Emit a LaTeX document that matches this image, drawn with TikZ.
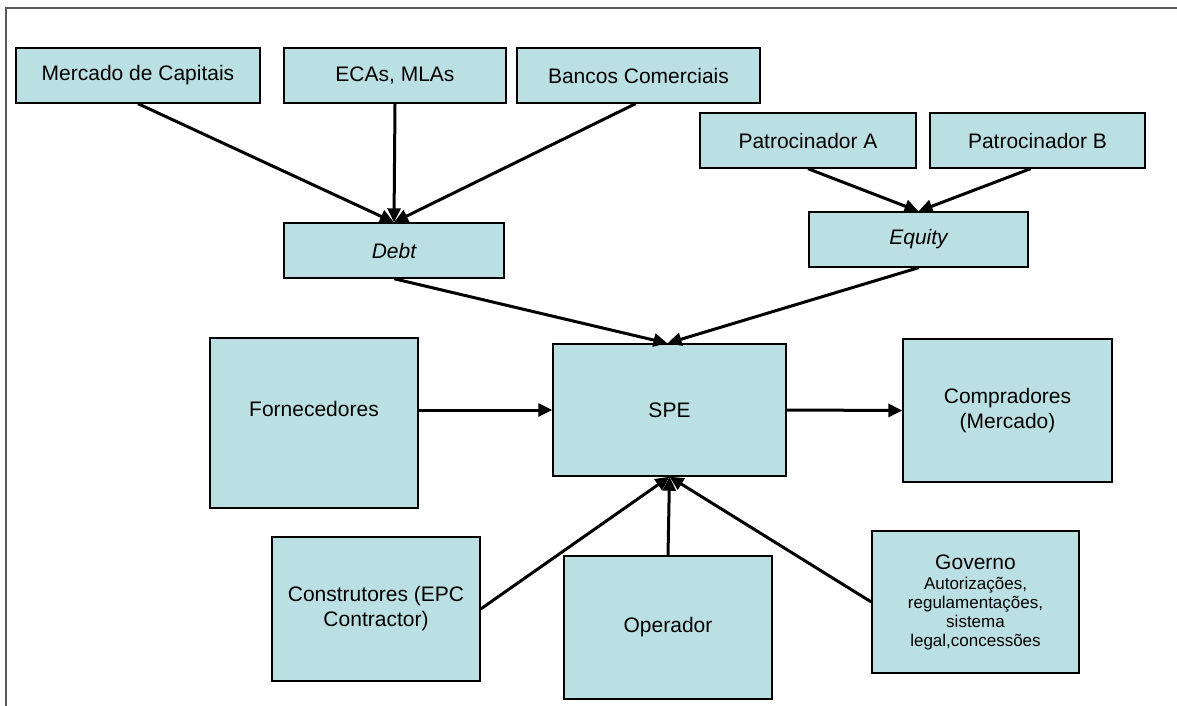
\documentclass[tikz,border=0pt]{standalone}
\usepackage{fontspec}
\setmainfont{Liberation Sans}
\usetikzlibrary{arrows.meta}
\definecolor{boxfill}{RGB}{187,224,227}
\definecolor{framegray}{RGB}{90,90,90}
\begin{document}
\begin{tikzpicture}[x=1pt,y=-1pt,
  box/.style={draw=black,line width=1.4pt,fill=boxfill,rectangle,inner sep=0pt,
    align=center,font=\fontsize{21}{25}\selectfont},
  conn/.style={line width=3pt,-{Triangle[length=14pt,width=13pt]}}]
\useasboundingbox (0,0) rectangle (1177,706);
\draw[framegray,line width=1.8pt] (6,706) -- (6,8) -- (1177,8);
% top row
\node[box,minimum width=244pt,minimum height=55pt] (merc) at (138,75.5) {Mercado de Capitais};
\node[box,minimum width=222pt,minimum height=55pt] (ecas) at (395,75.5) {ECAs, MLAs};
\node[box,minimum width=243pt,minimum height=55pt] (banc) at (638.5,75.5) {Bancos Comerciais};
\node[box,minimum width=216pt,minimum height=55pt] (pata) at (808,140.5) {Patrocinador A};
\node[box,minimum width=215pt,minimum height=55pt] (patb) at (1037.5,140.5) {Patrocinador B};
% middle
\node[box,minimum width=220pt,minimum height=55pt] (debt) at (394,250.5) {\itshape Debt};
\node[box,minimum width=219pt,minimum height=55pt] (equity) at (918.5,239.5) {\itshape Equity};
\node[box,minimum width=208pt,minimum height=170pt] (forn) at (314,423) {};
\node[font=\fontsize{21}{25}\selectfont,inner sep=0pt] (fornT) at (314,409) {Fornecedores};
\node[box,minimum width=233pt,minimum height=132pt] (spe) at (669.5,410) {SPE};
\node[box,minimum width=209pt,minimum height=143pt] (comp) at (1007.5,410.5) {Compradores\\(Mercado)};
% bottom
\node[box,minimum width=208pt,minimum height=144pt] (cons) at (376,609) {Construtores (EPC\\Contractor)};
\node[box,minimum width=208pt,minimum height=143pt] (oper) at (668,627.5) {Operador};
\node[box,minimum width=207pt,minimum height=142pt,font=\fontsize{17}{19}\selectfont] (gov) at (975.5,602) {{\fontsize{21}{19}\selectfont Governo}\\[1pt]Autorizações,\\regulamentações,\\sistema\\legal,concessões};
% connectors
\draw[conn] (merc.south) -- (debt.north);
\draw[conn] (ecas.south) -- (debt.north);
\draw[conn] ([xshift=-3pt]banc.south) -- (debt.north);
\draw[conn] (pata.south) -- (equity.north);
\draw[conn] ([xshift=-7pt]patb.south) -- (equity.north);
\draw[conn] (debt.south) -- ([xshift=-2pt]spe.north);
\draw[conn] (equity.south) -- ([xshift=-2pt]spe.north);
\draw[conn] (forn.east |- spe.west) -- (spe.west);
\draw[conn] (spe.east) -- (comp.west);
\draw[conn] (cons.east) -- (spe.south);
\draw[conn] (oper.north) -- (spe.south);
\draw[conn] (gov.west) -- (spe.south);
\end{tikzpicture}
\end{document}
